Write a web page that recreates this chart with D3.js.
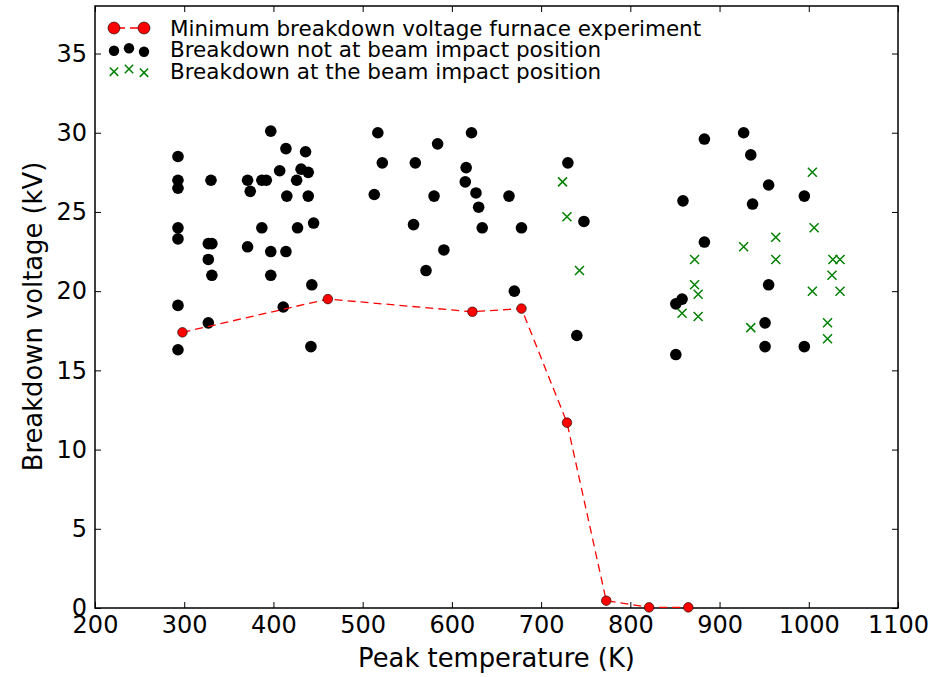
<!DOCTYPE html>
<html><head><meta charset="utf-8">
<script src="https://cdn.jsdelivr.net/npm/d3@7"></script>
<style>body{margin:0;background:#fff}svg text{font-family:"DejaVu Sans",sans-serif;}</style>
</head><body><svg id="c" width="945" height="677"></svg>
<script>
// Minimum breakdown voltage, furnace experiment
const furnaceT = [298, 461, 623, 678, 729, 773, 821, 865];
const furnaceV = [17.4, 19.5, 18.7, 18.9, 11.7, 0.46, 0.04, 0.04];

// Breakdown not at beam impact position
const notImpactT = [293,293,293,293,293,293,293, 330,327,331,327,331,327, 371,374,371,387,392,387,397,397,397,407,414,415,414,411,426,427,431,436,439,439,445,443,442,
  513,517,522,557,559,571,580,584,591,615,616,622,627,630,634,664,670,678, 730,748,740,
  851,858,851,859,883,883,927,935,937,955,955,951,951,995,995];
const notImpactV = [28.5,27.0,26.5,24.0,23.3,19.1,16.3, 27.0,23.0,23.0,22.0,21.0,18.0, 27.0,26.3,22.8,27.0,27.0,24.0,30.1,22.5,21.0,27.6,29.0,26.0,22.5,19.0,27.0,24.0,27.7,28.8,27.5,26.0,24.3,20.4,16.5,
  26.1,30.0,28.1,24.2,28.1,21.3,26.0,29.3,22.6,26.9,27.8,30.0,26.2,25.3,24.0,26.0,20.0,24.0, 28.1,24.4,17.2,
  19.2,19.5,16.0,25.7,29.6,23.1,30.0,28.6,25.5,26.7,20.4,18.0,16.5,26.0,16.5];

// Breakdown at the beam impact position
const impactT = [724,729,743, 872,872,876,858,876, 927,935,963,963, 1004,1006,1004,1027,1035,1026,1035,1021,1021];
const impactV = [26.9,24.7,21.3, 22.0,20.4,19.8,18.6,18.4, 22.8,17.7,23.4,22.0, 27.5,24.0,20.0,22.0,22.0,21.0,20.0,18.0,17.0];

const xTicks = [200,300,400,500,600,700,800,900,1000,1100];
const yTicks = [0,5,10,15,20,25,30,35];

const legendLabels = ["Minimum breakdown voltage furnace experiment",
  "Breakdown not at beam impact position",
  "Breakdown at the beam impact position"];

const svg = d3.select("#c");
const L = 95, R = 898, T = 6, B = 608;
const x = d3.scaleLinear().domain([200, 1100]).range([L, R]);
const y = d3.scaleLinear().domain([0, 38]).range([B, T]);

const tickFont = 24, labelFont = 25.8, legFont = 21.5;

// axes with inward ticks
const gx = svg.append("g").attr("transform", `translate(0,${B})`)
  .call(d3.axisBottom(x).tickValues(xTicks).tickSize(-6).tickPadding(8).tickFormat(d3.format("d")));
const gxt = svg.append("g").attr("transform", `translate(0,${T})`)
  .call(d3.axisTop(x).tickValues(xTicks).tickSize(-6).tickFormat(""));
const gy = svg.append("g").attr("transform", `translate(${L},0)`)
  .call(d3.axisLeft(y).tickValues(yTicks).tickSize(-6).tickPadding(8).tickFormat(d3.format("d")));
const gyr = svg.append("g").attr("transform", `translate(${R},0)`)
  .call(d3.axisRight(y).tickValues(yTicks).tickSize(-6).tickFormat(""));
[gx, gxt, gy, gyr].forEach(g => {
  g.select(".domain").remove();
  g.selectAll(".tick line").attr("stroke", "#000").attr("stroke-width", 1);
  g.selectAll("text").attr("font-size", tickFont).attr("fill", "#000").attr("font-family", "DejaVu Sans");
});

svg.append("rect").attr("x", L).attr("y", T).attr("width", R - L).attr("height", B - T)
  .attr("fill", "none").attr("stroke", "#000").attr("stroke-width", 1.5);

// axis labels
svg.append("text").attr("x", (L + R) / 2).attr("y", 667).attr("text-anchor", "middle")
  .attr("font-size", labelFont).text("Peak temperature (K)");
svg.append("text").attr("transform", `translate(42,316.5) rotate(-90)`).attr("text-anchor", "middle")
  .attr("font-size", labelFont).text("Breakdown voltage (kV)");

const plot = svg.append("g");

// black points
plot.selectAll("circle.ni").data(notImpactT.map((t, i) => [t, notImpactV[i]])).join("circle")
  .attr("class", "ni").attr("cx", d => x(d[0])).attr("cy", d => y(d[1])).attr("r", 5.8).attr("fill", "#000");

// green crosses
const cs = 4.5;
plot.selectAll("path.im").data(impactT.map((t, i) => [t, impactV[i]])).join("path")
  .attr("class", "im")
  .attr("d", d => { const cx = x(d[0]), cy = y(d[1]);
    return `M${cx - cs},${cy - cs}L${cx + cs},${cy + cs}M${cx - cs},${cy + cs}L${cx + cs},${cy - cs}`; })
  .attr("stroke", "#008000").attr("stroke-width", 1.5).attr("fill", "none");

// furnace line
const fdata = furnaceT.map((t, i) => [t, furnaceV[i]]);
plot.append("path").datum(fdata)
  .attr("d", d3.line().x(d => x(d[0])).y(d => y(d[1])))
  .attr("fill", "none").attr("stroke", "#ff0000").attr("stroke-width", 1.3).attr("stroke-dasharray", "8,5");
plot.selectAll("circle.fu").data(fdata).join("circle")
  .attr("class", "fu").attr("cx", d => x(d[0])).attr("cy", d => y(d[1])).attr("r", 4.8)
  .attr("fill", "#ff0000").attr("stroke", "#000").attr("stroke-width", 0.6);

// legend
const lg = svg.append("g");
const lx0 = 114, lx1 = 144, lxm = 129, tx = 170;
const rows = [28, 49.5, 71];
lg.append("line").attr("x1", lx0).attr("x2", lx1).attr("y1", rows[0]).attr("y2", rows[0])
  .attr("stroke", "#ff0000").attr("stroke-width", 1.3).attr("stroke-dasharray", "8,5").attr("stroke-dashoffset", -3);
[lx0, lx1].forEach(px => lg.append("circle").attr("cx", px).attr("cy", rows[0]).attr("r", 6)
  .attr("fill", "#ff0000").attr("stroke", "#000").attr("stroke-width", 0.6));
const offs = [1.2, -1.2, 2.2];
[lx0, lxm, lx1].forEach((px, i) => lg.append("circle").attr("cx", px).attr("cy", rows[1] + offs[i]).attr("r", 5.2).attr("fill", "#000"));
const offs2 = [0.7, -2, 1.7];
[lx0, lxm, lx1].forEach((px, i) => {
  const cy = rows[2] + offs2[i], s = 4.2;
  lg.append("path").attr("d", `M${px - s},${cy - s}L${px + s},${cy + s}M${px - s},${cy + s}L${px + s},${cy - s}`)
    .attr("stroke", "#008000").attr("stroke-width", 1.5);
});
legendLabels.forEach((t, i) => lg.append("text").attr("x", tx).attr("y", rows[i]).attr("dy", "0.36em")
  .attr("font-size", legFont).text(t));
</script>
</body></html>
